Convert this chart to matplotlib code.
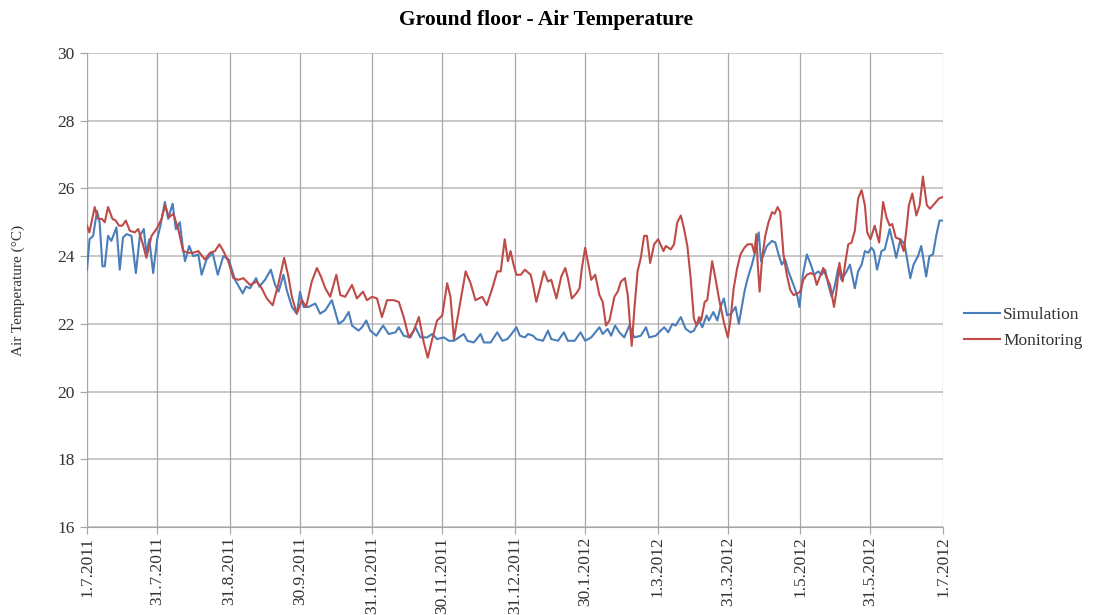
import matplotlib
matplotlib.use("Agg")
import matplotlib.pyplot as plt

# ---- data (day offset from 1.7.2011, temperature in °C) ----
tick_days = [0, 30, 61, 91, 122, 152, 183, 213, 244, 274, 305, 335, 366]
tick_labels = ["1.7.2011", "31.7.2011", "31.8.2011", "30.9.2011", "31.10.2011",
               "30.11.2011", "31.12.2011", "30.1.2012", "1.3.2012", "31.3.2012",
               "1.5.2012", "31.5.2012", "1.7.2012"]
y_ticks = [16, 18, 20, 22, 24, 26, 28, 30]

sim_days = [0, 1.1, 2.6, 4.3, 5.4, 6.6, 7.6, 9.0, 10.4, 12.6, 14.0, 15.4, 16.9, 19.0,
            20.9, 22.6, 24.3, 25.4, 26.6, 28.3, 30, 31.4, 33.3, 34.7, 36.6, 38.0, 39.7,
            40.9, 41.9, 43.7, 45.4, 47.6, 49.0, 51.1, 53.7, 55.9, 58.3, 60.6, 63.3, 66.6,
            68.0, 69.7, 72.3, 73.7, 76.1, 78.6, 80.4, 81.9, 84.0, 85.4, 87.6, 89.7, 91.1,
            92.6, 94.7, 97.6, 99.7, 101.9, 104.7, 107.6, 109.7, 111.9, 113.3, 116.1, 117.6,
            119.4, 121.1, 123.7, 126.6, 129.0, 131.9, 133.3, 135.4, 138.3, 140.4, 142.6,
            145.4, 147.6, 149.7, 152.6, 154.7, 156.9, 161.1, 162.6, 165.4, 168.3, 169.7,
            172.6, 175.4, 177.6, 179.7, 181.5, 183.6, 185.1, 187.2, 188.6, 190.7, 192.1,
            195.0, 197.1, 198.5, 201.4, 203.9, 205.6, 208.5, 211.0, 213.0, 215.6, 219.1,
            220.5, 222.6, 224.1, 225.8, 227.6, 229.7, 231.9, 234.0, 236.8, 239.0, 240.4,
            243.2, 245.3, 246.8, 248.5, 250.3, 251.7, 253.9, 256.0, 258.1, 259.5, 261.7,
            263.1, 264.9, 265.9, 267.8, 269.5, 270.9, 272.3, 273.7, 275.4, 277.3, 278.7,
            280.1, 281.1, 282.5, 284.3, 285.8, 287.2, 288.2, 289.3, 290.7, 292.9, 294.3,
            295.7, 297.1, 298.5, 299.9, 302.1, 303.8, 304.6, 306.1, 307.8, 309.5, 310.9,
            312.7, 314.1, 315.6, 317.0, 318.4, 319.8, 321.2, 322.6, 324.8, 326.2, 328.3,
            329.7, 331.2, 332.6, 334.0, 335.4, 336.5, 337.8, 339.7, 341.1, 343.2, 344.6,
            346.0, 347.8, 349.6, 352.0, 353.4, 355.3, 356.7, 358.8, 360.2, 361.7, 363.1,
            364.5, 366]
sim_vals = [23.6, 24.5, 24.6, 25.33, 25.0, 23.7, 23.7, 24.6, 24.45, 24.85, 23.6, 24.55,
            24.65, 24.6, 23.5, 24.6, 24.8, 24.05, 24.5, 23.5, 24.5, 24.9, 25.6, 25.1,
            25.55, 24.8, 25.0, 24.3, 23.85, 24.3, 24.0, 24.05, 23.45, 23.9, 24.1, 23.45,
            24.0, 23.9, 23.3, 22.9, 23.1, 23.05, 23.35, 23.1, 23.3, 23.6, 23.15, 22.95,
            23.45, 23.0, 22.5, 22.3, 22.95, 22.5, 22.5, 22.6, 22.3, 22.4, 22.7, 22.0,
            22.1, 22.35, 21.95, 21.8, 21.9, 22.1, 21.8, 21.65, 21.95, 21.7, 21.75, 21.9,
            21.65, 21.6, 21.9, 21.6, 21.6, 21.7, 21.55, 21.6, 21.5, 21.5, 21.7, 21.5,
            21.45, 21.7, 21.45, 21.45, 21.75, 21.5, 21.55, 21.7, 21.9, 21.65, 21.6, 21.7,
            21.65, 21.55, 21.5, 21.8, 21.55, 21.5, 21.75, 21.5, 21.5, 21.75, 21.5, 21.6,
            21.9, 21.7, 21.85, 21.65, 21.95, 21.75, 21.6, 21.95, 21.6, 21.65, 21.9, 21.6,
            21.65, 21.8, 21.9, 21.75, 22.0, 21.95, 22.2, 21.85, 21.75, 21.8, 22.1, 21.9,
            22.25, 22.1, 22.35, 22.1, 22.5, 22.75, 22.25, 22.3, 22.5, 22.0, 22.55, 22.95,
            23.35, 23.75, 24.15, 24.7, 23.85, 24.05, 24.3, 24.45, 24.4, 24.05, 23.75, 23.9,
            23.55, 23.15, 22.8, 22.5, 23.45, 24.05, 23.75, 23.45, 23.55, 23.45, 23.6,
            23.15, 22.8, 23.15, 23.65, 23.3, 23.55, 23.75, 23.05, 23.55, 23.75, 24.15,
            24.1, 24.25, 24.15, 23.6, 24.15, 24.2, 24.8, 24.4, 23.95, 24.5, 24.35, 23.35,
            23.75, 24.0, 24.3, 23.4, 24.0, 24.05, 24.6, 25.05, 25.05]

mon_days = [0, 1.0, 3.3, 4.7, 6.4, 7.6, 9.0, 10.9, 12.3, 13.7, 15.1, 16.6, 18.3, 20.4,
            21.9, 23.7, 25.4, 27.6, 29.7, 31.9, 33.3, 35.1, 36.9, 39.0, 41.1, 43.3, 45.4,
            47.6, 50.4, 52.6, 54.7, 56.6, 58.3, 60.4, 62.6, 64.7, 66.9, 69.7, 72.6, 74.7,
            76.9, 79.4, 81.9, 84.3, 86.1, 87.6, 89.7, 91.9, 93.7, 96.1, 98.3, 100.0,
            101.9, 104.0, 106.6, 108.3, 110.4, 113.3, 115.4, 118.0, 119.7, 121.9, 124.0,
            126.1, 128.3, 131.1, 133.3, 135.4, 137.6, 139.7, 141.9, 144.0, 145.7, 147.6,
            149.7, 151.9, 154.0, 155.4, 156.9, 159.0, 161.9, 164.0, 166.1, 169.0, 170.9,
            173.3, 175.4, 176.9, 178.6, 180.0, 181.1, 182.4, 183.6, 185.5, 187.2, 189.7,
            190.7, 192.1, 193.6, 195.4, 197.1, 198.5, 200.7, 202.8, 204.5, 205.6, 207.3,
            209.2, 210.6, 211.6, 213.0, 214.4, 215.6, 217.3, 219.1, 220.5, 221.9, 223.4,
            225.5, 226.9, 228.3, 230.0, 231.2, 232.9, 234.0, 235.4, 236.8, 238.2, 239.4,
            240.8, 242.5, 244.2, 246.5, 247.5, 249.6, 251.0, 252.4, 253.9, 255.3, 256.7,
            258.1, 259.5, 260.7, 261.7, 262.6, 264.1, 265.2, 267.3, 268.7, 270.2, 272.3,
            274.0, 275.1, 276.5, 278.0, 279.4, 281.1, 282.5, 284.3, 285.3, 286.2, 286.8,
            287.6, 288.6, 290.0, 291.4, 292.9, 294.0, 295.3, 296.4, 297.8, 299.2, 300.7,
            302.1, 303.8, 304.9, 306.3, 307.8, 309.5, 310.9, 312.0, 313.4, 314.8, 316.3,
            317.7, 319.4, 320.5, 321.7, 323.1, 324.1, 325.5, 326.9, 328.3, 329.7, 331.2,
            332.6, 333.6, 335.0, 336.8, 338.7, 340.4, 341.8, 343.2, 344.3, 345.8, 347.5,
            349.2, 350.3, 351.4, 352.9, 354.6, 356.0, 357.4, 359.1, 360.5, 362.4, 364.2,
            366]
mon_vals = [24.9, 24.7, 25.45, 25.1, 25.1, 25.0, 25.45, 25.1, 25.05, 24.9, 24.9, 25.05,
            24.75, 24.7, 24.8, 24.4, 23.95, 24.6, 24.8, 25.1, 25.5, 25.15, 25.25, 24.8,
            24.15, 24.1, 24.1, 24.15, 23.9, 24.1, 24.15, 24.35, 24.15, 23.85, 23.35, 23.3,
            23.35, 23.15, 23.25, 23.05, 22.75, 22.55, 23.2, 23.95, 23.4, 22.8, 22.3, 22.7,
            22.5, 23.25, 23.65, 23.4, 23.05, 22.8, 23.45, 22.85, 22.8, 23.15, 22.75, 22.95,
            22.7, 22.8, 22.75, 22.2, 22.7, 22.7, 22.65, 22.2, 21.6, 21.8, 22.2, 21.45,
            21.0, 21.55, 22.1, 22.25, 23.2, 22.8, 21.55, 22.4, 23.55, 23.2, 22.7, 22.8,
            22.55, 23.05, 23.55, 23.55, 24.5, 23.85, 24.15, 23.75, 23.45, 23.45, 23.6,
            23.45, 23.15, 22.65, 23.05, 23.55, 23.25, 23.3, 22.75, 23.4, 23.65, 23.35,
            22.75, 22.9, 23.05, 23.65, 24.25, 23.75, 23.3, 23.45, 22.85, 22.65, 21.95,
            22.1, 22.8, 22.95, 23.25, 23.35, 22.85, 21.35, 22.4, 23.55, 23.95, 24.6, 24.6,
            23.8, 24.35, 24.5, 24.15, 24.3, 24.2, 24.35, 25.0, 25.2, 24.8, 24.3, 23.35,
            22.15, 21.95, 22.2, 22.1, 22.65, 22.7, 23.85, 23.35, 22.75, 22.05, 21.6, 22.1,
            23.05, 23.65, 24.05, 24.25, 24.35, 24.35, 24.1, 24.65, 23.75, 22.95, 23.9,
            24.6, 25.0, 25.3, 25.25, 25.45, 25.3, 24.05, 23.45, 23.0, 22.85, 22.9, 22.95,
            23.3, 23.45, 23.5, 23.45, 23.15, 23.4, 23.65, 23.35, 23.15, 22.5, 23.0, 23.8,
            23.25, 23.75, 24.35, 24.4, 24.75, 25.7, 25.95, 25.5, 24.7, 24.5, 24.9, 24.4,
            25.6, 25.15, 24.9, 24.95, 24.55, 24.5, 24.15, 24.75, 25.5, 25.85, 25.2, 25.5,
            26.35, 25.5, 25.4, 25.55, 25.7, 25.75]

# ---- figure ----
W, H = 1096, 615
fig = plt.figure(figsize=(W / 100, H / 100), dpi=100)
ax = fig.add_axes([87 / W, 1 - 527 / H, (943 - 87) / W, (527 - 53) / H])

serif = ["Liberation Serif", "DejaVu Serif"]

ax.plot(sim_days, sim_vals, color="#4A7EBB", lw=1.5, label="Simulation", zorder=3,
        solid_joinstyle="round")
ax.plot(mon_days, mon_vals, color="#BE4B48", lw=1.5, label="Monitoring", zorder=4,
        solid_joinstyle="round")

ax.set_xlim(0, 366)
ax.set_ylim(16, 30)
ax.set_yticks(y_ticks)
ax.set_xticks(tick_days)
ax.set_xticklabels(tick_labels, rotation=90, fontsize=12.5, family=serif, color="#333333")
ax.set_yticklabels([str(v) for v in y_ticks], fontsize=12.5, family=serif, color="#333333")

for y in y_ticks:
    ax.axhline(y, color="#C4C4C4", lw=1.3, zorder=1)
for d in tick_days:
    ax.axvline(d, color="#A8A8A8", lw=0.9, zorder=1)

for s in ["top", "right"]:
    ax.spines[s].set_visible(False)
ax.spines["left"].set_color("#A8A8A8")
ax.spines["bottom"].set_color("#A8A8A8")
ax.tick_params(axis="both", color="#A8A8A8", length=5, width=0.9)
ax.tick_params(axis="x", pad=2)
ax.tick_params(axis="y", pad=4)

fig.text(546 / W, 1 - 20 / H, "Ground floor - Air Temperature", ha="center", va="center",
         fontsize=15.5, fontweight="bold", family=serif)
fig.text(18 / W, 1 - 290 / H, "Air Temperature (°C)", rotation=90, ha="center", va="center",
         fontsize=11, family=serif, color="#333333")

leg = fig.legend(loc="center left", bbox_to_anchor=(964 / W, 1 - 328 / H), frameon=False,
                 prop={"family": serif, "size": 12.5}, handlelength=2.1, handletextpad=0.15,
                 borderpad=0, borderaxespad=0, labelspacing=0.55)
for t in leg.get_texts():
    t.set_color("#333333")

fig.savefig("out.png", dpi=100)
